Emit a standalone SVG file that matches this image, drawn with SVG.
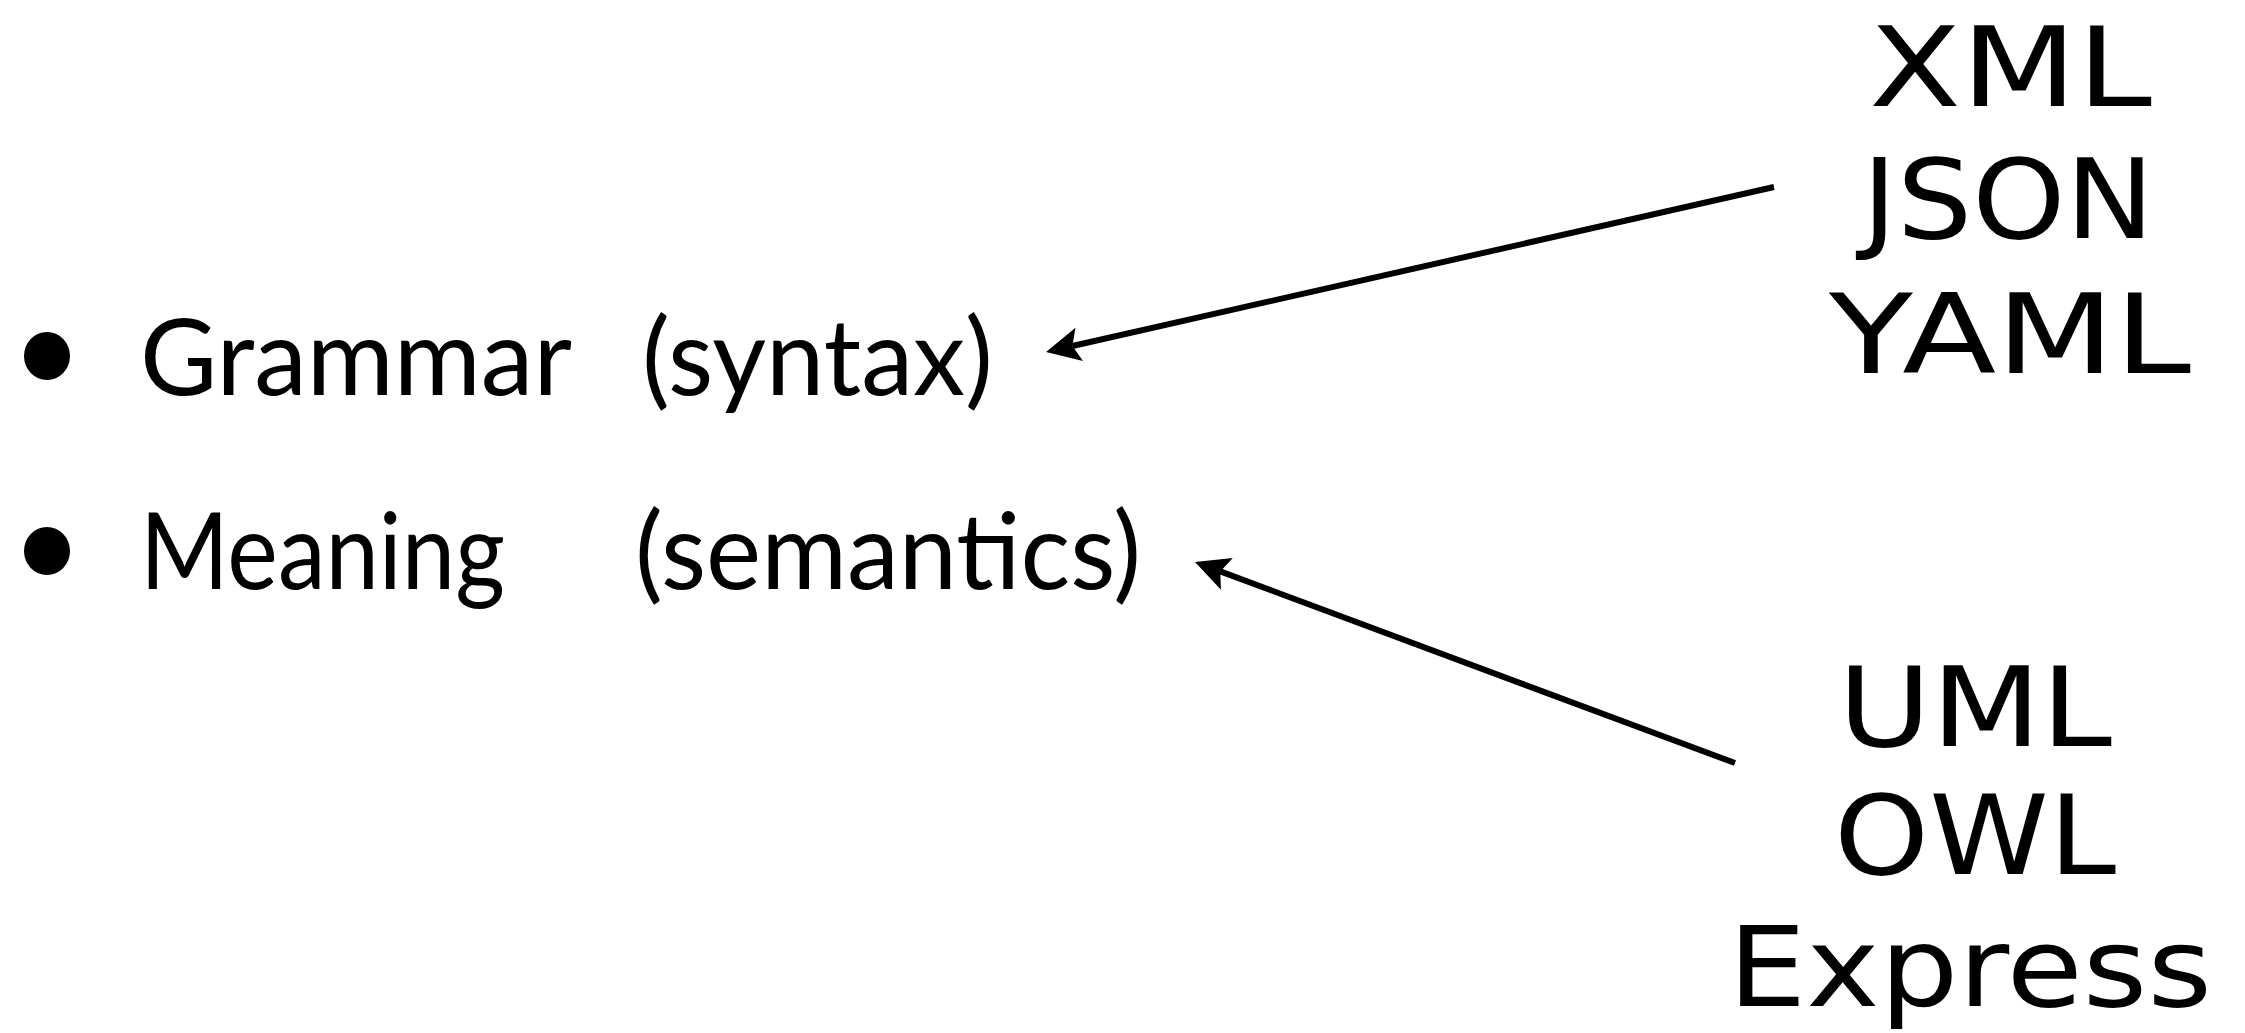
<svg xmlns="http://www.w3.org/2000/svg" width="2245" height="1033" viewBox="0 0 2245 1033">
<style>
.main{font-family:Lato,"Liberation Sans",sans-serif;font-size:107px;fill:#000}
.hand{font-family:"DejaVu Sans",sans-serif;font-size:110px;fill:#000}
.conn{fill:none;stroke:#000;stroke-width:6}
</style>
<defs>
<marker id="ah" markerUnits="userSpaceOnUse" viewBox="-40 -20 45 40" refX="-27" refY="0" markerWidth="45" markerHeight="40" orient="auto">
<path d="M0,0 L-34,-17 L-27,0 L-34,17 Z" fill="#000"/>
</marker>
</defs>
<rect width="2245" height="1033" fill="#fff"/>
<g id="grammar">
<ellipse cx="47" cy="356" rx="23" ry="24" fill="#000"/>
<text class="main" x="140" y="395" textLength="432" lengthAdjust="spacingAndGlyphs">Grammar</text>
<text class="main" x="642" y="395" textLength="351" lengthAdjust="spacingAndGlyphs">(syntax)</text>
</g>
<g id="meaning">
<ellipse cx="47" cy="551" rx="23" ry="24" fill="#000"/>
<text class="main" x="140" y="589" textLength="365" lengthAdjust="spacingAndGlyphs">Meaning</text>
<text class="main" x="635" y="589" textLength="506" lengthAdjust="spacingAndGlyphs">(semantics)</text>
</g>
<g id="syntax-formats">
<text class="hand" x="1869" y="106" textLength="283" lengthAdjust="spacingAndGlyphs">XML</text>
<text class="hand" x="1862" y="238" textLength="292" lengthAdjust="spacingAndGlyphs">JSON</text>
<text class="hand" x="1829" y="373" textLength="362" lengthAdjust="spacingAndGlyphs">YAML</text>
</g>
<g id="semantic-formats">
<text class="hand" x="1838" y="746" textLength="274" lengthAdjust="spacingAndGlyphs">UML</text>
<text class="hand" x="1834" y="874" textLength="282" lengthAdjust="spacingAndGlyphs">OWL</text>
<text class="hand" x="1728" y="1006" textLength="484" lengthAdjust="spacingAndGlyphs">Express</text>
</g>
<g id="connectors">
<path class="conn" d="M1774,187 L1072.4,346" marker-end="url(#ah)"/>
<path class="conn" d="M1735,763 L1220.3,571.4" marker-end="url(#ah)"/>
</g>
</svg>
